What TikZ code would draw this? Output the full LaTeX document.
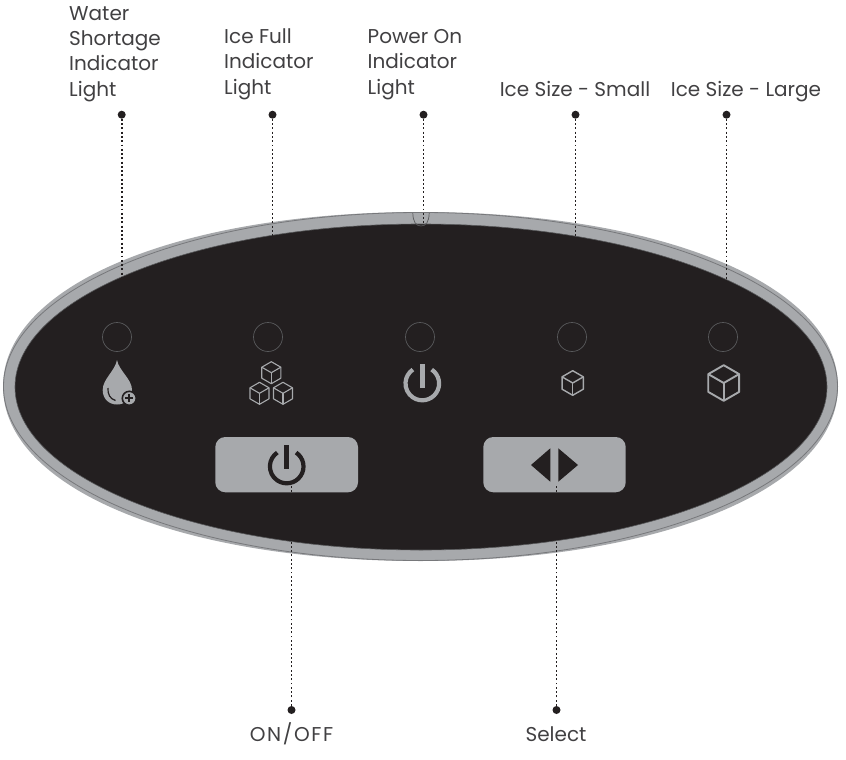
\documentclass[tikz,border=0pt]{standalone}
\usepackage{fontspec}
\setmainfont{Poppins}
\definecolor{panelblack}{HTML}{231F20}
\definecolor{rimgray}{HTML}{A7A9AC}
\definecolor{rimline}{HTML}{58595B}
\definecolor{rimthin}{HTML}{77787B}
\definecolor{labelgray}{HTML}{414042}
\tikzset{
    label text/.style={text=labelgray, font=\fontsize{20}{25.3}\selectfont, inner sep=0pt},
    leader/.style={draw=panelblack, line width=1.9pt, dash pattern=on 1.9pt off 2.37pt},
    leader dot/.style={circle, fill=panelblack, inner sep=0pt, minimum size=8pt},
    led/.style={draw=rimline, line width=0.7pt},
    panel button/.style={fill=rimgray, rounded corners=10pt}
}
% One ice cube: centre, radius, line width
\newcommand{\icecube}[3]{
    \begin{scope}[shift={(#1)}, draw=rimgray, line width=#3, line join=round]
        \draw (90:#2) -- (30:#2) -- (-30:#2) -- (-90:#2) -- (-150:#2) -- (150:#2) -- cycle;
        \draw (0,0) -- (90:#2);
        \draw (0,0) -- (-30:#2);
        \draw (0,0) -- (-150:#2);
    \end{scope}
}
\begin{document}
\begin{tikzpicture}[x=1pt, y=-1pt]

    \useasboundingbox (0, 0) rectangle (846, 760);

    % Free ends of the leaders, on the panel
    \coordinate (waterEnd) at (121.7, 279);
    \coordinate (fullEnd) at (272.5, 238);
    \coordinate (powerEnd) at (423.5, 226);
    \coordinate (smallEnd) at (575.5, 238);
    \coordinate (largeEnd) at (726.5, 284);
    \coordinate (onoffEnd) at (291.5, 485);
    \coordinate (selectEnd) at (556.5, 485);

    % Outer rim, its thin line and the black face of the panel
    \fill[rimgray] (3, 386.5) .. controls (3, 285.3) and (178.5, 212) .. (420.5, 212) .. controls (662.5, 212) and (838, 285.3) .. (838, 386.5) .. controls (838, 487.7) and (662.5, 561) .. (420.5, 561) .. controls (178.5, 561) and (3, 487.7) .. (3, 386.5) -- cycle;
    \draw[draw=rimthin, line width=0.8pt] (420.5, 386.5) ellipse [x radius=417, y radius=174];
    \draw[fill=panelblack, draw=rimline, line width=0.6pt] (421, 387) ellipse [x radius=406, y radius=163];

    % Small notch in the rim
    \draw[draw=rimline, line width=0.7pt] (412.8, 213) .. controls (413, 222) and (416, 226) .. (421, 226) .. controls (426, 226) and (429, 222) .. (429.2, 213);

    % Indicator lights
    \foreach \x in {117, 268, 420, 572, 723}
        \draw[led] (\x, 337) circle (14.5);

    % Water drop with plus sign
    \fill[rimgray] (117, 360) .. controls (119, 371) and (132, 379) .. (132, 390) .. controls (132, 399) and (125, 404.5) .. (117, 404.5) .. controls (109, 404.5) and (102.7, 399) .. (102.7, 390) .. controls (102.7, 379) and (115, 371) .. (117, 360) -- cycle;
    \draw[panelblack, line width=1.2pt] (108, 388) .. controls (107.5, 394) and (110, 399) .. (115.5, 400.5);
    \draw[fill=rimgray, draw=panelblack, line width=1.6pt] (129.3, 398.3) circle (7);
    \draw[panelblack, line width=2pt] (125.3, 398.3) -- (133.3, 398.3);
    \draw[panelblack, line width=2pt] (129.3, 394.3) -- (129.3, 402.3);

    % Ice full cubes
    \icecube{271.3, 372.7}{11}{1.1pt}
    \icecube{259.5, 393.3}{11}{1.1pt}
    \icecube{283, 393.3}{11}{1.1pt}

    % Power on icon
    \draw[rimgray, line width=4.2pt] (422.3, 383.5) ++(-56:16.8) arc [start angle=-56, end angle=236, radius=16.8];
    \draw[rimgray, line width=4.4pt] (422.3, 364) -- (422.3, 387.5);

    % Ice size icons
    \icecube{572.7, 383}{12.3}{1.4pt}
    \icecube{723.7, 383}{17.8}{1.9pt}

    % Buttons
    \fill[panel button] (215.3, 437) rectangle (358, 492.3);
    \fill[panel button] (483.3, 437) rectangle (625.7, 492.3);

    % Icon on the ON/OFF button
    \draw[panelblack, line width=4.2pt] (286.7, 466.5) ++(-56:16.8) arc [start angle=-56, end angle=236, radius=16.8];
    \draw[panelblack, line width=4.6pt] (286.7, 445) -- (286.7, 469);

    % Arrows on the select button
    \fill[panelblack] (531, 465) -- (550.3, 448.3) -- (550.3, 481.7) -- cycle;
    \fill[panelblack] (578, 465) -- (558.3, 448.3) -- (558.3, 481.7) -- cycle;

    % Leader dots
    \node[leader dot] (waterDot) at (121.7, 114.7) {};
    \node[leader dot] (fullDot) at (272.5, 114.7) {};
    \node[leader dot] (powerDot) at (423.5, 114.7) {};
    \node[leader dot] (smallDot) at (575.5, 114.7) {};
    \node[leader dot] (largeDot) at (726.5, 114.7) {};
    \node[leader dot] (onoffDot) at (291.5, 710) {};
    \node[leader dot] (selectDot) at (556.5, 710) {};

    % Leaders
    \draw[leader] (waterDot) -- (waterEnd);
    \draw[leader] (fullDot) -- (fullEnd);
    \draw[leader] (powerDot) -- (powerEnd);
    \draw[leader] (smallDot) -- (smallEnd);
    \draw[leader] (largeDot) -- (largeEnd);
    \draw[leader] (onoffDot) -- (onoffEnd);
    \draw[leader] (selectDot) -- (selectEnd);

    % Text labels, placed by the baseline of their last line
    \node[label text, anchor=base west, align=left] (waterLabel) at (69, 96) {Water\\Shortage\\Indicator\\Light};
    \node[label text, anchor=base west, align=left] (fullLabel) at (224, 94) {Ice Full\\Indicator\\Light};
    \node[label text, anchor=base west, align=left] (powerLabel) at (367.5, 94) {Power On\\Indicator\\Light};
    \node[label text, anchor=base] (smallLabel) at (575, 96) {Ice Size - Small};
    \node[label text, anchor=base] (largeLabel) at (746, 96) {Ice Size - Large};
    \node[label text, anchor=base] (onoffLabel) at (291.5, 741) {\addfontfeature{LetterSpace=8}ON/OFF};
    \node[label text, anchor=base] (selectLabel) at (556, 741) {Select};

\end{tikzpicture}
\end{document}
